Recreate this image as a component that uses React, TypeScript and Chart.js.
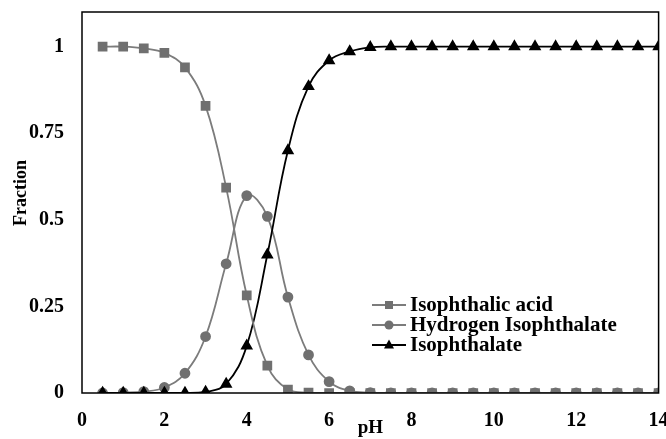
import React, { useEffect, useRef } from "react";
import { Chart, registerables } from "chart.js";

Chart.register(...registerables);

const pH = [0.5, 1, 1.5, 2, 2.5, 3, 3.5, 4, 4.5, 5, 5.5, 6, 6.5, 7, 7.5, 8, 8.5, 9, 9.5, 10, 10.5, 11, 11.5, 12, 12.5, 13, 13.5, 14];

const isophthalicAcid = [1.0, 1.0, 0.995, 0.982, 0.94, 0.829, 0.593, 0.282, 0.079, 0.01, 0.001, 0, 0, 0, 0, 0, 0, 0, 0, 0, 0, 0, 0, 0, 0, 0, 0, 0];
const hydrogenIsophthalate = [0, 0.001, 0.004, 0.016, 0.057, 0.163, 0.373, 0.57, 0.51, 0.277, 0.11, 0.033, 0.006, 0.001, 0, 0, 0, 0, 0, 0, 0, 0, 0, 0, 0, 0, 0, 0];
const isophthalate = [0, 0, 0, 0, 0, 0.003, 0.026, 0.136, 0.399, 0.7, 0.885, 0.96, 0.986, 0.998, 1, 1, 1, 1, 1, 1, 1, 1, 1, 1, 1, 1, 1, 1];

const xTicks = [0, 2, 4, 6, 8, 10, 12, 14];
const yTicks = [0, 0.25, 0.5, 0.75, 1];

const seriesNames = ["Isophthalic acid", "Hydrogen Isophthalate", "Isophthalate"];
const xTitle = "pH";
const yTitle = "Fraction";

const FONT = "'Liberation Serif', 'Times New Roman', serif";
const GRAY_MARK = "#707070";
const GRAY_LINE = "#7c7c7c";

const toPoints = (ys: number[]) => pH.map((x, i) => ({ x, y: ys[i] }));

export default function App() {
  const ref = useRef<HTMLCanvasElement>(null);

  useEffect(() => {
    if (!ref.current) return;

    const framePlugin = {
      id: "frame",
      afterDatasetsDraw(chart: any) {
        const { ctx, chartArea } = chart;
        ctx.save();
        ctx.strokeStyle = "#000";
        ctx.lineWidth = 1.5;
        ctx.strokeRect(chartArea.left, chartArea.top, chartArea.right - chartArea.left, chartArea.bottom - chartArea.top);
        ctx.restore();
      },
    };

    const yTitlePlugin = {
      id: "yTitle",
      afterDraw(chart: any) {
        const { ctx } = chart;
        ctx.save();
        ctx.translate(21, 193);
        ctx.rotate(-Math.PI / 2);
        ctx.fillStyle = "#000";
        ctx.font = `bold 18px ${FONT}`;
        ctx.textAlign = "center";
        ctx.textBaseline = "middle";
        ctx.fillText(yTitle, 0, 0);
        ctx.restore();
      },
    };

    const legendPlugin = {
      id: "customLegend",
      afterDraw(chart: any) {
        const { ctx } = chart;
        const x0 = 372;
        const x1 = 406;
        const rows = [305, 325, 345];
        const styles = [
          { line: GRAY_LINE, mark: GRAY_MARK, shape: "rect" },
          { line: GRAY_LINE, mark: GRAY_MARK, shape: "circle" },
          { line: "#000", mark: "#000", shape: "triangle" },
        ];
        ctx.save();
        rows.forEach((y, i) => {
          const s = styles[i];
          ctx.strokeStyle = s.line;
          ctx.lineWidth = 2;
          ctx.beginPath();
          ctx.moveTo(x0, y);
          ctx.lineTo(x1, y);
          ctx.stroke();
          ctx.fillStyle = s.mark;
          const cx = (x0 + x1) / 2;
          ctx.beginPath();
          if (s.shape === "rect") {
            ctx.rect(cx - 4, y - 4, 8, 8);
          } else if (s.shape === "circle") {
            ctx.arc(cx, y, 4.5, 0, Math.PI * 2);
          } else {
            ctx.moveTo(cx, y - 5.5);
            ctx.lineTo(cx + 5, y + 3.5);
            ctx.lineTo(cx - 5, y + 3.5);
            ctx.closePath();
          }
          ctx.fill();
          ctx.fillStyle = "#000";
          ctx.font = `bold 21px ${FONT}`;
          ctx.textBaseline = "middle";
          ctx.textAlign = "left";
          ctx.fillText(seriesNames[i], 410, y + 1);
        });
        ctx.restore();
      },
    };

    const chart = new Chart(ref.current, {
      type: "line",
      data: {
        datasets: [
          {
            label: seriesNames[0],
            data: toPoints(isophthalicAcid),
            borderColor: GRAY_LINE,
            backgroundColor: GRAY_MARK,
            pointBackgroundColor: GRAY_MARK,
            pointBorderColor: GRAY_MARK,
            pointStyle: "rect",
            pointRadius: 5.6,
            borderWidth: 1.8,
            tension: 0.4,
            order: 0,
          },
          {
            label: seriesNames[1],
            data: toPoints(hydrogenIsophthalate),
            borderColor: GRAY_LINE,
            backgroundColor: GRAY_MARK,
            pointBackgroundColor: GRAY_MARK,
            pointBorderColor: GRAY_MARK,
            pointStyle: "circle",
            pointRadius: 4.5,
            borderWidth: 1.8,
            tension: 0.4,
            order: 2,
          },
          {
            label: seriesNames[2],
            data: toPoints(isophthalate),
            borderColor: "#000",
            backgroundColor: "#000",
            pointBackgroundColor: "#000",
            pointBorderColor: "#000",
            pointStyle: "triangle",
            pointRadius: 5.5,
            borderWidth: 1.8,
            tension: 0.4,
            order: 1,
          },
        ],
      },
      options: {
        responsive: false,
        animation: false,
        layout: { padding: { top: 12, right: 6, left: 0, bottom: 0 } },
        plugins: {
          legend: { display: false },
          tooltip: { enabled: false },
        },
        scales: {
          x: {
            type: "linear",
            min: 0,
            max: 14,
            grid: { display: false },
            border: { display: false },
            afterBuildTicks: (scale: any) => {
              scale.ticks = xTicks.map((v) => ({ value: v }));
            },
            afterFit: (scale: any) => {
              scale.height = 46;
              scale.paddingLeft = 0;
              scale.paddingRight = 0;
            },
            ticks: {
              color: "#000",
              font: { family: FONT, size: 20, weight: "bold" },
              padding: 8,
              maxRotation: 0,
              autoSkip: false,
              callback: (v: any) => String(v),
            },
            title: {
              display: true,
              text: xTitle,
              color: "#000",
              font: { family: FONT, size: 19, weight: "bold" },
              padding: { top: -8, bottom: 0 },
            },
          },
          y: {
            type: "linear",
            min: 0,
            max: 1.1,
            grid: { display: false },
            border: { display: false },
            afterBuildTicks: (scale: any) => {
              scale.ticks = yTicks.map((v) => ({ value: v }));
            },
            afterFit: (scale: any) => {
              scale.width = 82;
              scale.paddingTop = 0;
              scale.paddingBottom = 0;
            },
            ticks: {
              color: "#000",
              font: { family: FONT, size: 20, weight: "bold" },
              padding: 10,
              callback: (v: any) => String(v),
            },
          },
        },
      },
      plugins: [framePlugin, legendPlugin, yTitlePlugin],
    });

    return () => chart.destroy();
  }, []);

  return (
    <div style={{ position: "fixed", left: 0, top: 0, width: 666, height: 439, background: "#fff" }}>
      <canvas ref={ref} width={666} height={439} style={{ width: 666, height: 439, display: "block" }} />
    </div>
  );
}
